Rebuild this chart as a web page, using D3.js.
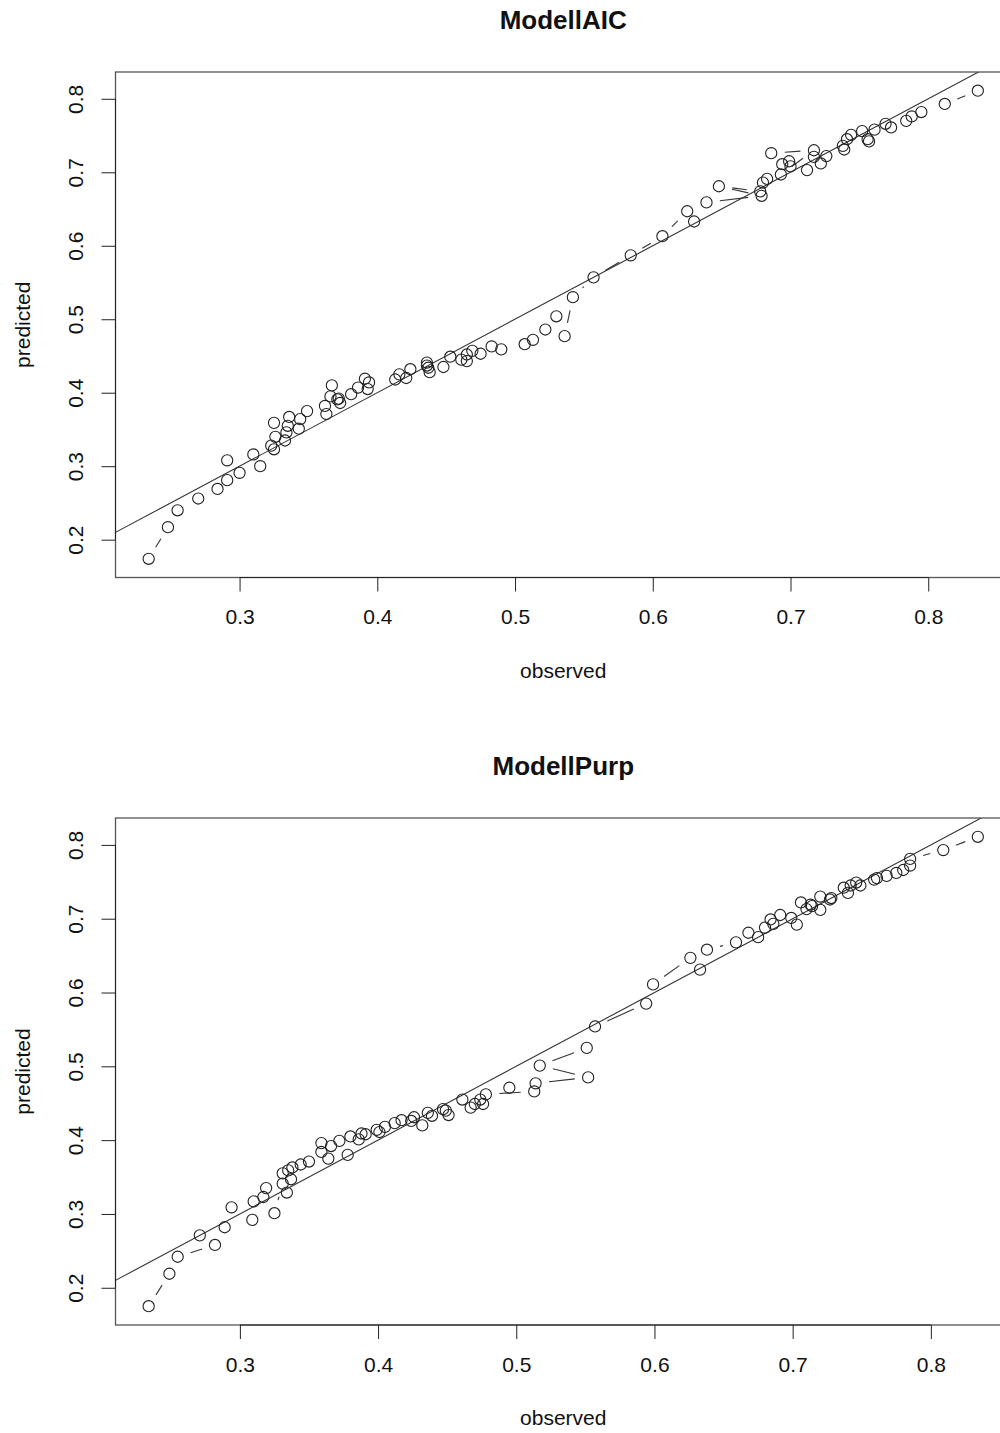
<!DOCTYPE html>
<html>
<head>
<meta charset="utf-8">
<script src="https://cdn.jsdelivr.net/npm/d3@7"></script>
<style>
  body { margin: 0; background: #fff; }
  svg { display: block; font-family: "Liberation Sans", Arial, Helvetica, sans-serif; }
</style>
</head>
<body>
<svg id="chart" width="1000" height="1433"></svg>
<script>
// values, in plotting order
const aicObserved = [
    0.234, 0.248, 0.255, 0.270, 0.284, 0.291, 0.291, 0.300, 0.310, 0.315,
    0.323, 0.325, 0.325, 0.326, 0.333, 0.334, 0.335, 0.336, 0.343, 0.344,
    0.349, 0.362, 0.363, 0.366, 0.367, 0.371, 0.373, 0.372, 0.381, 0.386,
    0.391, 0.393, 0.394, 0.413, 0.416, 0.421, 0.424, 0.436, 0.437, 0.438,
    0.436, 0.448, 0.453, 0.461, 0.465, 0.465, 0.469, 0.475, 0.483, 0.490,
    0.507, 0.513, 0.522, 0.530, 0.536, 0.542, 0.557, 0.584, 0.607, 0.625,
    0.630, 0.639, 0.679, 0.648, 0.678, 0.680, 0.683, 0.686, 0.717, 0.693,
    0.694, 0.699, 0.700, 0.712, 0.717, 0.722, 0.726, 0.738, 0.739, 0.741,
    0.744, 0.752, 0.757, 0.756, 0.761, 0.769, 0.773, 0.784, 0.788, 0.795,
    0.812, 0.836
]
const aicPredicted = [
    0.174, 0.217, 0.240, 0.256, 0.269, 0.281, 0.308, 0.291, 0.316, 0.300,
    0.328, 0.323, 0.359, 0.340, 0.335, 0.346, 0.355, 0.367, 0.351, 0.364,
    0.375, 0.382, 0.371, 0.395, 0.410, 0.391, 0.386, 0.392, 0.398, 0.407,
    0.419, 0.405, 0.414, 0.418, 0.425, 0.420, 0.432, 0.441, 0.434, 0.428,
    0.437, 0.435, 0.449, 0.445, 0.443, 0.452, 0.457, 0.453, 0.463, 0.459,
    0.466, 0.472, 0.486, 0.504, 0.477, 0.530, 0.557, 0.587, 0.613, 0.647,
    0.633, 0.659, 0.668, 0.681, 0.674, 0.686, 0.691, 0.726, 0.730, 0.697,
    0.711, 0.715, 0.708, 0.703, 0.721, 0.712, 0.722, 0.736, 0.731, 0.745,
    0.751, 0.756, 0.742, 0.745, 0.758, 0.766, 0.761, 0.770, 0.776, 0.782,
    0.793, 0.811
]

const purpObserved = [
    0.234, 0.249, 0.255, 0.282, 0.271, 0.289, 0.294, 0.309, 0.310, 0.317,
    0.319, 0.325, 0.331, 0.334, 0.331, 0.335, 0.337, 0.338, 0.344, 0.350,
    0.359, 0.359, 0.364, 0.366, 0.372, 0.378, 0.380, 0.386, 0.388, 0.391,
    0.399, 0.401, 0.405, 0.412, 0.417, 0.426, 0.424, 0.432, 0.436, 0.439,
    0.447, 0.451, 0.449, 0.461, 0.467, 0.470, 0.474, 0.476, 0.478, 0.513,
    0.495, 0.514, 0.552, 0.517, 0.551, 0.557, 0.594, 0.599, 0.626, 0.633,
    0.638, 0.659, 0.668, 0.675, 0.680, 0.684, 0.686, 0.691, 0.699, 0.703,
    0.706, 0.710, 0.713, 0.714, 0.720, 0.720, 0.727, 0.728, 0.737, 0.740,
    0.742, 0.746, 0.749, 0.759, 0.761, 0.768, 0.775, 0.780, 0.785, 0.785,
    0.809, 0.834
]
const purpPredicted = [
    0.175, 0.219, 0.242, 0.258, 0.271, 0.282, 0.309, 0.292, 0.317, 0.323,
    0.335, 0.301, 0.341, 0.329, 0.355, 0.359, 0.347, 0.363, 0.367, 0.371,
    0.384, 0.396, 0.375, 0.392, 0.399, 0.380, 0.405, 0.401, 0.409, 0.408,
    0.414, 0.411, 0.418, 0.423, 0.427, 0.431, 0.426, 0.420, 0.437, 0.433,
    0.442, 0.434, 0.440, 0.455, 0.444, 0.449, 0.455, 0.449, 0.462, 0.466,
    0.471, 0.477, 0.485, 0.501, 0.525, 0.554, 0.585, 0.611, 0.647, 0.631,
    0.658, 0.668, 0.681, 0.675, 0.688, 0.699, 0.693, 0.705, 0.701, 0.692,
    0.722, 0.713, 0.719, 0.717, 0.730, 0.712, 0.726, 0.728, 0.742, 0.735,
    0.745, 0.749, 0.745, 0.753, 0.755, 0.758, 0.762, 0.766, 0.772, 0.781,
    0.793, 0.811
]

const xTicks = [0.3, 0.4, 0.5, 0.6, 0.7, 0.8]
const yTicks = [0.2, 0.3, 0.4, 0.5, 0.6, 0.7, 0.8]

const svg = d3.select('#chart')
const ink = '#222'

// R style: data range widened by 4% on each side
const padExtent = values => {
    const [lo, hi] = d3.extent(values)
    const pad = (hi - lo) * 0.04
    return [lo - pad, hi + pad]
}

const drawPanel = ({ title, observed, predicted, top, bottom, left = 115.5, right = 1011 }) => {
    const g = svg.append('g')
    const x = d3.scaleLinear().domain(padExtent(observed)).range([left, right])
    const y = d3.scaleLinear().domain(padExtent(predicted)).range([bottom, top])
    const points = observed.map((d, i) => [x(d), y(predicted[i])])

    const clipId = 'clip-' + title
    g.append('clipPath').attr('id', clipId)
        .append('rect')
        .attr('x', left).attr('y', top)
        .attr('width', right - left).attr('height', bottom - top)

    // identity line
    const [x0, x1] = x.domain()
    g.append('line')
        .attr('clip-path', `url(#${clipId})`)
        .attr('x1', x(x0)).attr('y1', y(x0))
        .attr('x2', x(x1)).attr('y2', y(x1))
        .attr('stroke', '#333')
        .attr('stroke-width', 1.1)

    // type = "b": segments stopping short of the symbols
    const gap = 13.5
    const segments = d3.pairs(points).filter(([a, b]) => Math.hypot(b[0] - a[0], b[1] - a[1]) > 2 * gap)
    g.append('g')
        .selectAll('line')
        .data(segments)
        .join('line')
        .each(function ([a, b]) {
            const len = Math.hypot(b[0] - a[0], b[1] - a[1])
            const ux = (b[0] - a[0]) / len, uy = (b[1] - a[1]) / len
            d3.select(this)
                .attr('x1', a[0] + ux * gap).attr('y1', a[1] + uy * gap)
                .attr('x2', b[0] - ux * gap).attr('y2', b[1] - uy * gap)
        })
        .attr('stroke', '#333')
        .attr('stroke-width', 1.1)

    g.append('g')
        .selectAll('circle')
        .data(points)
        .join('circle')
        .attr('cx', d => d[0])
        .attr('cy', d => d[1])
        .attr('r', 5.6)
        .attr('fill', 'none')
        .attr('stroke', ink)
        .attr('stroke-width', 1.1)

    // box
    g.append('rect')
        .attr('x', left).attr('y', top)
        .attr('width', right - left).attr('height', bottom - top)
        .attr('fill', 'none')
        .attr('stroke', '#555')
        .attr('stroke-width', 1.3)

    g.append('g')
        .attr('transform', `translate(0, ${bottom})`)
        .call(d3.axisBottom(x).tickValues(xTicks).tickSize(14).tickPadding(18).tickSizeOuter(0).tickFormat(d3.format('.1f')))
        .call(a => {
            a.select('.domain').attr('d', `M${x(xTicks[0])},0H${x(xTicks[xTicks.length - 1])}`).attr('stroke', ink)
            a.selectAll('.tick line').attr('stroke', ink)
            a.selectAll('text').attr('font-size', 21).attr('fill', '#111').attr('font-family', null)
        })

    g.append('g')
        .attr('transform', `translate(${left}, 0)`)
        .call(d3.axisLeft(y).tickValues(yTicks).tickSize(14).tickSizeOuter(0).tickFormat(d3.format('.1f')))
        .call(a => {
            a.select('.domain').attr('d', `M0,${y(yTicks[0])}V${y(yTicks[yTicks.length - 1])}`).attr('stroke', ink)
            a.selectAll('.tick line').attr('stroke', ink)
            a.selectAll('text')
                .attr('font-size', 21).attr('fill', '#111').attr('font-family', null)
                .attr('x', null).attr('dy', null)
                .attr('text-anchor', 'middle')
                .attr('transform', 'translate(-33, 0) rotate(-90)')
        })

    g.append('text')
        .attr('x', (left + right) / 2)
        .attr('y', top - 43)
        .attr('text-anchor', 'middle')
        .attr('font-size', 26)
        .attr('font-weight', 'bold')
        .attr('fill', '#111')
        .text(title)

    g.append('text')
        .attr('x', (left + right) / 2)
        .attr('y', bottom + 100)
        .attr('text-anchor', 'middle')
        .attr('font-size', 21)
        .attr('fill', '#111')
        .text('observed')

    g.append('text')
        .attr('transform', `translate(30, ${(top + bottom) / 2}) rotate(-90)`)
        .attr('text-anchor', 'middle')
        .attr('font-size', 21)
        .attr('fill', '#111')
        .text('predicted')
}

drawPanel({ title: 'ModellAIC', observed: aicObserved, predicted: aicPredicted, top: 72, bottom: 577.5 })
drawPanel({ title: 'ModellPurp', observed: purpObserved, predicted: purpPredicted, top: 818, bottom: 1325 })
</script>
</body>
</html>
